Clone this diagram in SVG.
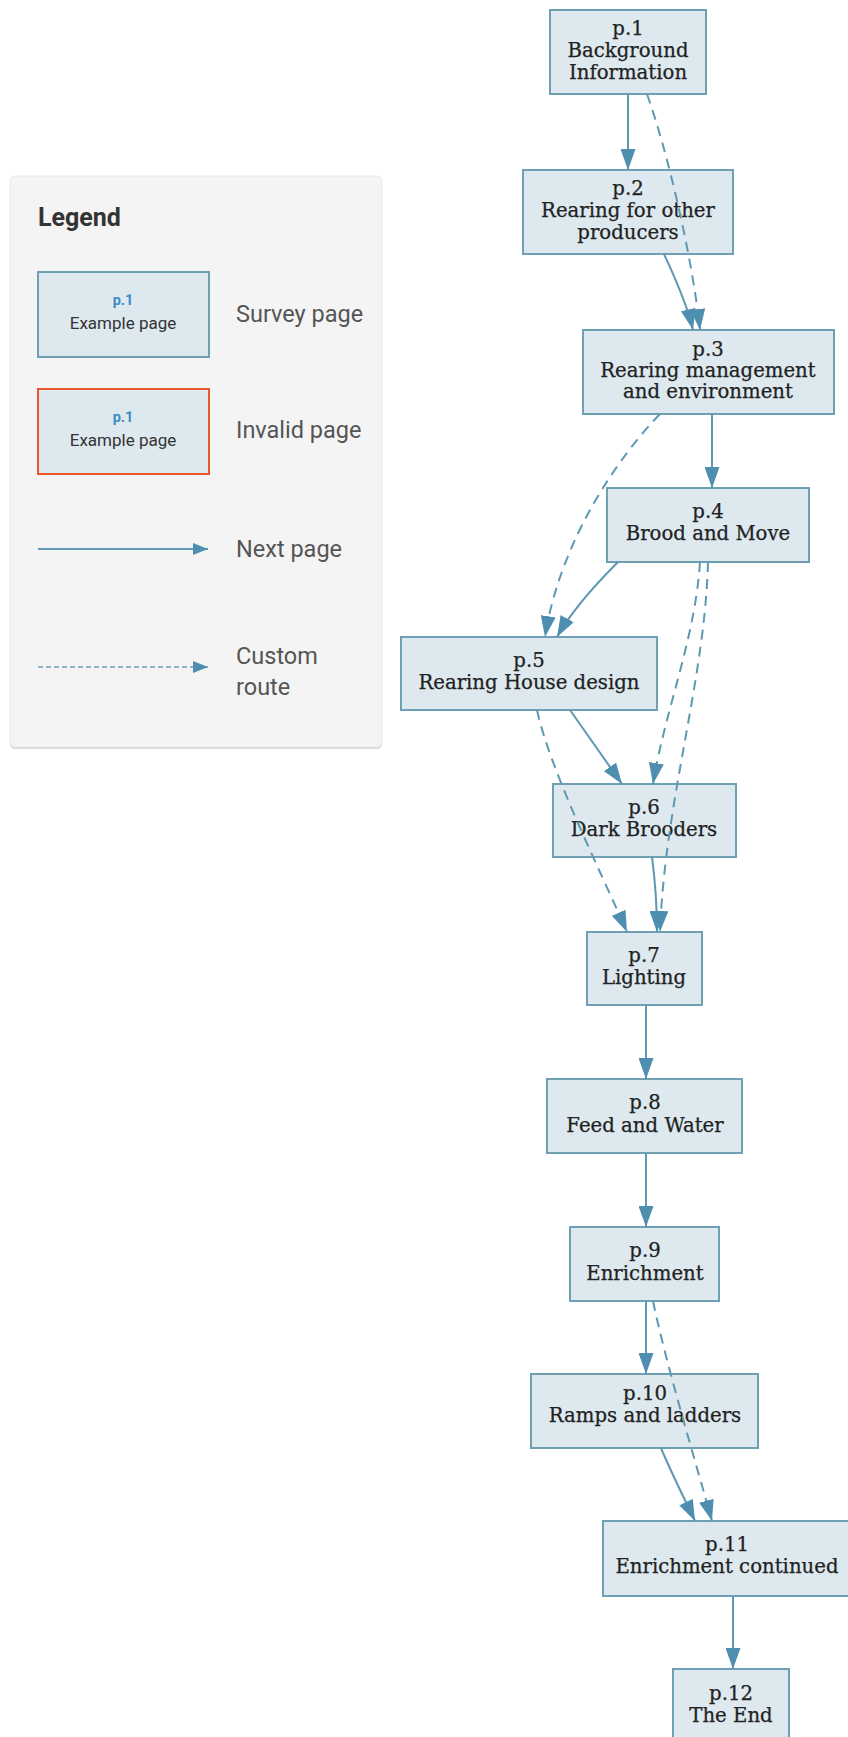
<svg xmlns="http://www.w3.org/2000/svg" width="848" height="1737" viewBox="0 0 848 1737">
<style>
.node rect{fill:#dde9ef;stroke:#6e9fb3;stroke-width:2}
.node text{font-family:"DejaVu Serif",serif;font-size:19.7px;fill:#222;stroke:#222;stroke-width:0.25;text-anchor:middle}
.edge{fill:none;stroke:#5e99b4;stroke-width:2}
.dash{stroke-dasharray:10 7}
.lg{font-family:Roboto,"Liberation Sans",sans-serif;fill:#555;font-size:23.5px}
.lgs{font-family:Roboto,"Liberation Sans",sans-serif;text-anchor:middle}
</style>
<defs>
<marker id="ah" viewBox="0 0 21 15" refX="21" refY="7.5" markerWidth="21" markerHeight="15" markerUnits="userSpaceOnUse" orient="auto">
<path d="M0,0 L21,7.5 L0,15 z" fill="#4e8fb0"/>
</marker>
<marker id="ahs" viewBox="0 0 15 12" refX="15" refY="6" markerWidth="15" markerHeight="12" markerUnits="userSpaceOnUse" orient="auto">
<path d="M0,0 L15,6 L0,12 z" fill="#4e8fb0"/>
</marker>
</defs>
<rect width="848" height="1737" fill="#ffffff"/>

<g id="legend">
<rect x="10" y="178" width="372" height="571" rx="5" fill="#d9d9d9"/>
<rect x="10" y="176" width="372" height="571" rx="5" fill="#f4f4f4" stroke="#e8e8e8" stroke-width="1"/>
<text x="38" y="226" font-family="Roboto,'Liberation Sans',sans-serif" font-size="25" font-weight="bold" fill="#333">Legend</text>
<rect x="38" y="272" width="171" height="85" fill="#dde9ef" stroke="#6e9fb3" stroke-width="2"/>
<text class="lgs" x="123" y="305" font-size="14.5" font-weight="bold" fill="#3a8cc4">p.1</text>
<text class="lgs" x="123" y="329" font-size="17" fill="#333">Example page</text>
<text class="lg" x="236" y="322">Survey page</text>
<rect x="38" y="389" width="171" height="85" fill="#dde9ef" stroke="#e8582c" stroke-width="2"/>
<text class="lgs" x="123" y="422" font-size="14.5" font-weight="bold" fill="#3a8cc4">p.1</text>
<text class="lgs" x="123" y="446" font-size="17" fill="#333">Example page</text>
<text class="lg" x="236" y="438">Invalid page</text>
<path class="edge" d="M38,549 L208,549" marker-end="url(#ahs)"/>
<text class="lg" x="236" y="557">Next page</text>
<path class="edge" d="M38,667 L208,667" stroke-dasharray="5 3" marker-end="url(#ahs)" style="stroke:#8db3c4"/>
<text class="lg" x="236" y="664">Custom</text>
<text class="lg" x="236" y="695">route</text>
</g>

<g id="p1" class="node"><rect x="550" y="10" width="156" height="84"/>
<text x="628" y="35">p.1</text><text x="628" y="57">Background</text><text x="628" y="79">Information</text></g>
<g id="p2" class="node"><rect x="523" y="170" width="210" height="84"/>
<text x="628" y="195">p.2</text><text x="628" y="217">Rearing for other</text><text x="628" y="239">producers</text></g>
<g id="p3" class="node"><rect x="583" y="330" width="251" height="84"/>
<text x="708" y="356">p.3</text><text x="708" y="377">Rearing management</text><text x="708" y="398">and environment</text></g>
<g id="p4" class="node"><rect x="607" y="488" width="202" height="74"/>
<text x="708" y="518">p.4</text><text x="708" y="540">Brood and Move</text></g>
<g id="p5" class="node"><rect x="401" y="637" width="256" height="73"/>
<text x="529" y="667">p.5</text><text x="529" y="689">Rearing House design</text></g>
<g id="p6" class="node"><rect x="553" y="784" width="183" height="73"/>
<text x="644" y="814">p.6</text><text x="644" y="836">Dark Brooders</text></g>
<g id="p7" class="node"><rect x="587" y="932" width="115" height="73"/>
<text x="644" y="962">p.7</text><text x="644" y="984">Lighting</text></g>
<g id="p8" class="node"><rect x="547" y="1079" width="195" height="74"/>
<text x="645" y="1109">p.8</text><text x="645" y="1132">Feed and Water</text></g>
<g id="p9" class="node"><rect x="570" y="1227" width="149" height="74"/>
<text x="645" y="1257">p.9</text><text x="645" y="1280">Enrichment</text></g>
<g id="p10" class="node"><rect x="531" y="1374" width="227" height="74"/>
<text x="645" y="1400">p.10</text><text x="645" y="1422">Ramps and ladders</text></g>
<g id="p11" class="node"><rect x="603" y="1521" width="247" height="75"/>
<text x="727" y="1551">p.11</text><text x="727" y="1573">Enrichment continued</text></g>
<g id="p12" class="node"><rect x="673" y="1669" width="116" height="74"/>
<text x="731" y="1700">p.12</text><text x="731" y="1722">The End</text></g>

<g id="connectors">
<path class="edge" d="M628,94 L628,170" marker-end="url(#ah)"/>
<path class="edge dash" d="M647,94 C667,150 692,255 700,330" marker-end="url(#ah)"/>
<path class="edge" d="M664,254 C672,272 686,300 693,330" marker-end="url(#ah)"/>
<path class="edge" d="M712,414 L712,488" marker-end="url(#ah)"/>
<path class="edge dash" d="M660,414 C620,455 560,540 545,637" marker-end="url(#ah)"/>
<path class="edge" d="M618,562 C600,580 572,610 557,637" marker-end="url(#ah)"/>
<path class="edge dash" d="M700,562 C695,640 665,710 653,784" marker-end="url(#ah)"/>
<path class="edge dash" d="M708,562 C705,680 665,800 660,932" marker-end="url(#ah)"/>
<path class="edge" d="M570,710 L622,784" marker-end="url(#ah)"/>
<path class="edge dash" d="M537,710 C550,770 600,870 627,932" marker-end="url(#ah)"/>
<path class="edge" d="M652,857 C655,880 657,905 657,932" marker-end="url(#ah)"/>
<path class="edge" d="M646,1005 L646,1079" marker-end="url(#ah)"/>
<path class="edge" d="M646,1153 L646,1227" marker-end="url(#ah)"/>
<path class="edge" d="M646,1301 L646,1374" marker-end="url(#ah)"/>
<path class="edge dash" d="M653,1301 C665,1360 695,1460 712,1521" marker-end="url(#ah)"/>
<path class="edge" d="M661,1448 C670,1470 685,1500 695,1521" marker-end="url(#ah)"/>
<path class="edge" d="M733,1596 L733,1669" marker-end="url(#ah)"/>
</g>
</svg>
